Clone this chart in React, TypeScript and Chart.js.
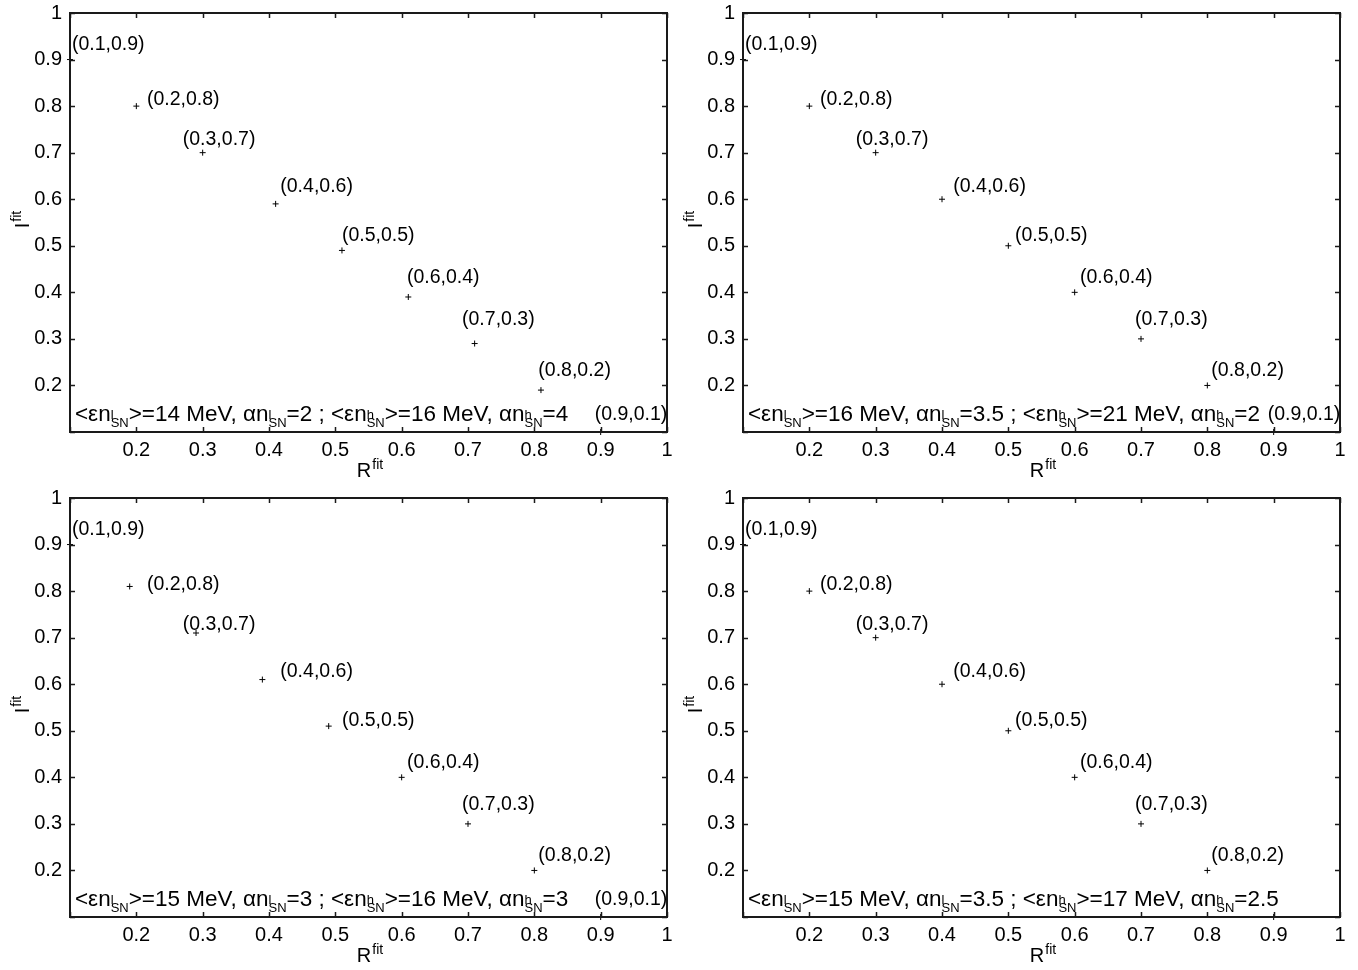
import React, { useEffect, useRef } from "react";
import { Chart, registerables } from "chart.js";

Chart.register(...registerables);

const FONT = '"Liberation Sans", Arial, Helvetica, sans-serif';

// Nominal (true) parameter pairs used as point labels
const NOMINAL_R = [0.1, 0.2, 0.3, 0.4, 0.5, 0.6, 0.7, 0.8, 0.9];
const NOMINAL_I = [0.9, 0.8, 0.7, 0.6, 0.5, 0.4, 0.3, 0.2, 0.1];
const POINT_LABELS = ["(0.1,0.9)", "(0.2,0.8)", "(0.3,0.7)", "(0.4,0.6)", "(0.5,0.5)", "(0.6,0.4)", "(0.7,0.3)", "(0.8,0.2)", "(0.9,0.1)"];

// Fitted values per panel
const P1_R = [0.1, 0.2, 0.3, 0.41, 0.51, 0.61, 0.71, 0.81, 0.9];
const P1_I = [0.9, 0.8, 0.7, 0.59, 0.49, 0.39, 0.29, 0.19, 0.1];
const P2_R = [0.1, 0.2, 0.3, 0.4, 0.5, 0.6, 0.7, 0.8, 0.9];
const P2_I = [0.9, 0.8, 0.7, 0.6, 0.5, 0.4, 0.3, 0.2, 0.1];
const P3_R = [0.1, 0.19, 0.29, 0.39, 0.49, 0.6, 0.7, 0.8, 0.9];
const P3_I = [0.9, 0.81, 0.71, 0.61, 0.51, 0.4, 0.3, 0.2, 0.1];
const P4_R = [0.1, 0.2, 0.3, 0.4, 0.5, 0.6, 0.7, 0.8, 0.9];
const P4_I = [0.9, 0.8, 0.7, 0.6, 0.5, 0.4, 0.3, 0.2, 0.1];

// Spectrum parameters per panel: <eps low>, alpha low, <eps high>, alpha high
const P1_PARAMS = ["14", "2", "16", "4"];
const P2_PARAMS = ["16", "3.5", "21", "2"];
const P3_PARAMS = ["15", "3", "16", "3"];
const P4_PARAMS = ["15", "3.5", "17", "2.5"];

const X_TICKS = [0.1, 0.2, 0.3, 0.4, 0.5, 0.6, 0.7, 0.8, 0.9, 1];
const Y_TICKS = [0.1, 0.2, 0.3, 0.4, 0.5, 0.6, 0.7, 0.8, 0.9, 1];

// label placement offsets (data units) relative to nominal point: left edge / vertical middle
const LABEL_OFFSETS: [number, number][] = [
  [0.003, 0.033],
  [0.016, 0.015],
  [-0.03, 0.027],
  [0.017, 0.026],
  [0.01, 0.021],
  [0.008, 0.031],
  [-0.009, 0.041],
  [0.006, 0.031],
  [-0.009, 0.038],
];

const fmtTick = (v: number) => {
  if (Math.abs(v - 0.1) < 1e-6) return "";
  if (Math.abs(v - 1) < 1e-6) return "1";
  return v.toFixed(1);
};

type Seg = { t?: string; sup?: string; sub?: string };

function drawRich(ctx: CanvasRenderingContext2D, x: number, y: number, segs: Seg[], big: number, small: number) {
  let cx = x;
  ctx.textBaseline = "alphabetic";
  ctx.textAlign = "left";
  for (const s of segs) {
    if (s.t !== undefined) {
      ctx.font = `${big}px ${FONT}`;
      ctx.fillText(s.t, cx, y);
      cx += ctx.measureText(s.t).width;
    } else {
      ctx.font = `${small}px ${FONT}`;
      let w = 0;
      if (s.sup) {
        ctx.fillText(s.sup, cx, y - 2);
        w = Math.max(w, ctx.measureText(s.sup).width);
      }
      if (s.sub) {
        ctx.fillText(s.sub, cx, y + 6);
        w = Math.max(w, ctx.measureText(s.sub).width);
      }
      cx += w;
    }
  }
  return cx;
}

const zeroPad = (s: any) => {
  s.paddingTop = 0;
  s.paddingBottom = 0;
  s.paddingLeft = 0;
  s.paddingRight = 0;
};

function PanelChart(props: { r: number[]; i: number[]; params: string[]; showLast: boolean; left: number; top: number }) {
  const ref = useRef<HTMLCanvasElement>(null);
  useEffect(() => {
    const { r, i, params, showLast } = props;
    const decor = {
      id: "decor",
      afterDraw(chart: any) {
        const ctx: CanvasRenderingContext2D = chart.ctx;
        const xs = chart.scales.x;
        const ys = chart.scales.y;
        const a = chart.chartArea;
        ctx.save();
        ctx.strokeStyle = "#1a1a1a";
        ctx.fillStyle = "#000";
        // frame
        ctx.lineWidth = 2;
        ctx.strokeRect(a.left, a.top, a.right - a.left, a.bottom - a.top);
        // inward ticks
        ctx.lineWidth = 1.5;
        const TL = 5;
        for (const v of X_TICKS) {
          const px = Math.round(xs.getPixelForValue(v)) + 0.5;
          ctx.beginPath();
          ctx.moveTo(px, a.bottom);
          ctx.lineTo(px, a.bottom - TL);
          ctx.moveTo(px, a.top);
          ctx.lineTo(px, a.top + TL);
          ctx.stroke();
        }
        for (const v of Y_TICKS) {
          const py = Math.round(ys.getPixelForValue(v)) + 0.5;
          ctx.beginPath();
          ctx.moveTo(a.left, py);
          ctx.lineTo(a.left + TL, py);
          ctx.moveTo(a.right, py);
          ctx.lineTo(a.right - TL, py);
          ctx.stroke();
        }
        // point labels
        ctx.font = `19.5px ${FONT}`;
        ctx.textAlign = "left";
        ctx.textBaseline = "middle";
        for (let k = 0; k < POINT_LABELS.length; k++) {
          if (k === POINT_LABELS.length - 1 && !showLast) continue;
          const lx = xs.getPixelForValue(NOMINAL_R[k] + LABEL_OFFSETS[k][0]);
          const ly = ys.getPixelForValue(NOMINAL_I[k] + LABEL_OFFSETS[k][1]);
          ctx.fillText(POINT_LABELS[k], lx, ly);
        }
        // annotation
        const segs: Seg[] = [
          { t: "<\u03b5n" },
          { sup: "l", sub: "SN" },
          { t: `>=${params[0]} MeV, \u03b1n` },
          { sup: "l", sub: "SN" },
          { t: `=${params[1]} ; <\u03b5n` },
          { sup: "h", sub: "SN" },
          { t: `>=${params[2]} MeV, \u03b1n` },
          { sup: "h", sub: "SN" },
          { t: `=${params[3]}` },
        ];
        drawRich(ctx, xs.getPixelForValue(0.1075), ys.getPixelForValue(0.123), segs, 22.5, 13);
        // x title
        ctx.font = `20px ${FONT}`;
        const wR = ctx.measureText("R").width;
        ctx.font = `14px ${FONT}`;
        const wf = ctx.measureText("fit").width;
        const cxT = (a.left + a.right) / 2 + 1;
        const xt0 = cxT - (wR + wf) / 2;
        drawRich(ctx, xt0, a.bottom + 45, [{ t: "R" }], 20, 14);
        ctx.font = `14px ${FONT}`;
        ctx.fillText("fit", xt0 + wR + 1, a.bottom + 37);
        // y title
        ctx.save();
        const cyT = (a.top + a.bottom) / 2 - 3;
        ctx.translate(a.left - 41, cyT);
        ctx.rotate(-Math.PI / 2);
        ctx.font = `20px ${FONT}`;
        const wI = ctx.measureText("I").width;
        const yt0 = -(wI + wf + 1) / 2;
        ctx.textBaseline = "alphabetic";
        ctx.fillText("I", yt0, 0);
        ctx.font = `14px ${FONT}`;
        ctx.fillText("fit", yt0 + wI + 1, -8);
        ctx.restore();
        ctx.restore();
      },
    };
    const chart = new Chart(ref.current!, {
      type: "scatter",
      data: {
        datasets: [
          {
            data: r.map((x, k) => ({ x, y: i[k] })),
            pointStyle: "cross",
            pointRadius: 3,
            borderWidth: 1,
            borderColor: "#000",
            backgroundColor: "#000",
            clip: false as any,
          },
        ],
      },
      options: {
        animation: false,
        responsive: false,
        maintainAspectRatio: false,
        layout: { padding: { top: 13, right: 12, left: 0, bottom: 0 } },
        plugins: { legend: { display: false }, tooltip: { enabled: false } },
        scales: {
          x: {
            type: "linear",
            min: 0.1,
            max: 1,
            afterBuildTicks: (s: any) => {
              s.ticks = X_TICKS.map((v) => ({ value: v }));
            },
            afterFit: (s: any) => {
              s.height = 53;
              zeroPad(s);
            },
            grid: { display: false, drawTicks: false },
            border: { display: false },
            ticks: {
              padding: 6,
              autoSkip: false,
              maxRotation: 0,
              color: "#000",
              font: { size: 20, family: FONT },
              callback: (v: any) => fmtTick(Number(v)),
            },
          },
          y: {
            type: "linear",
            min: 0.1,
            max: 1,
            afterBuildTicks: (s: any) => {
              s.ticks = Y_TICKS.map((v) => ({ value: v }));
            },
            afterFit: (s: any) => {
              s.width = 70;
              zeroPad(s);
            },
            grid: { display: false, drawTicks: false },
            border: { display: false },
            ticks: {
              padding: 8,
              autoSkip: false,
              color: "#000",
              font: { size: 20, family: FONT },
              callback: (v: any) => fmtTick(Number(v)),
            },
          },
        },
      },
      plugins: [decor as any],
    });
    return () => chart.destroy();
  }, []);
  return (
    <canvas
      ref={ref}
      width={679}
      height={485}
      style={{ position: "absolute", left: props.left, top: props.top, width: 679, height: 485 }}
    />
  );
}

export default function App() {
  return (
    <div style={{ position: "absolute", left: 0, top: 0, width: 1358, height: 970, background: "#fff" }}>
      <PanelChart r={P1_R} i={P1_I} params={P1_PARAMS} showLast={true} left={0} top={0} />
      <PanelChart r={P2_R} i={P2_I} params={P2_PARAMS} showLast={true} left={673} top={0} />
      <PanelChart r={P3_R} i={P3_I} params={P3_PARAMS} showLast={true} left={0} top={485} />
      <PanelChart r={P4_R} i={P4_I} params={P4_PARAMS} showLast={false} left={673} top={485} />
    </div>
  );
}
